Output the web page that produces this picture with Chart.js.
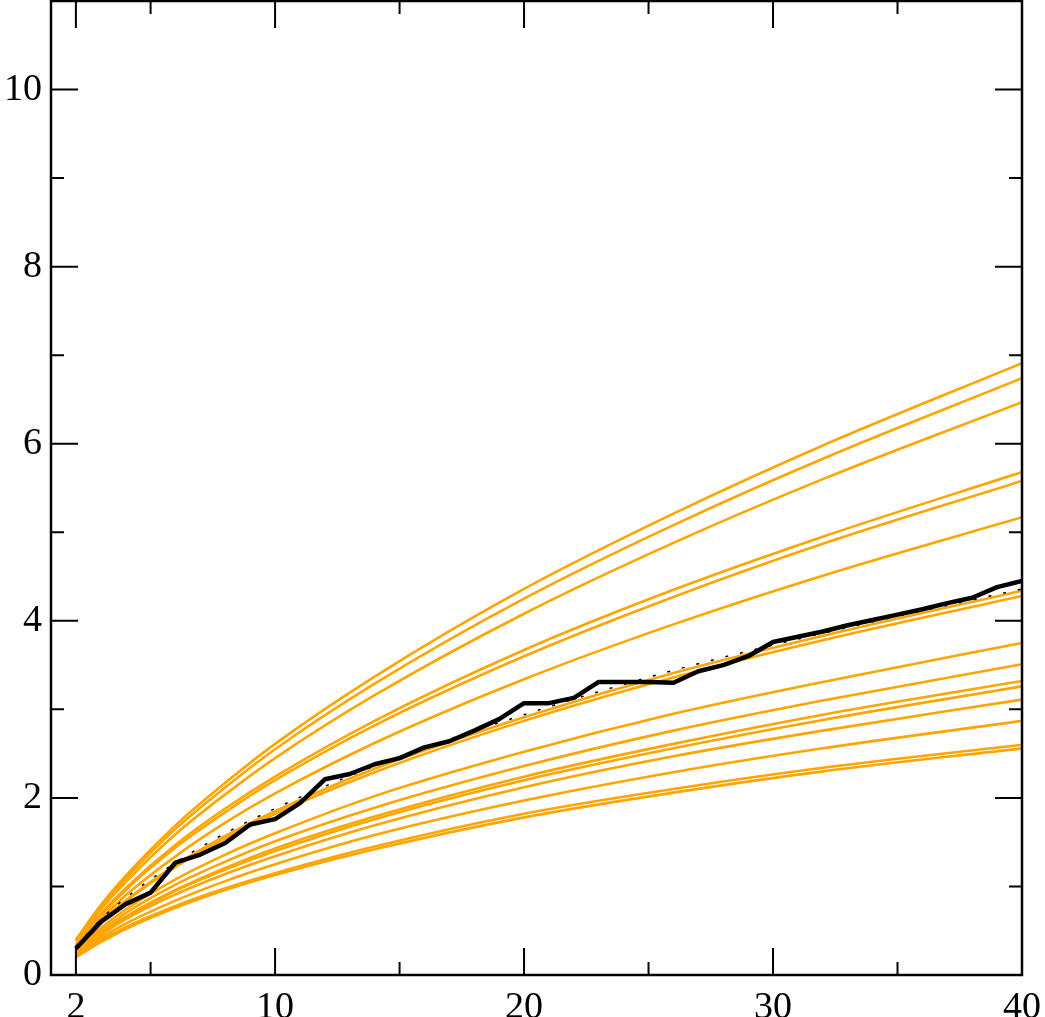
<!DOCTYPE html>
<html>
<head>
<meta charset="utf-8">
<script src="https://cdn.jsdelivr.net/npm/chart.js@4/dist/chart.umd.min.js"></script>
<style>
  html, body { margin: 0; padding: 0; background: #fff; }
  #wrap { width: 1045px; height: 1017px; }
  #warm { position: absolute; left: -9999px; font-family: 'Liberation Serif'; font-size: 38px; }
</style>
</head>
<body>
<div id="warm">0123456789</div>
<div id="wrap"><canvas id="chart"></canvas></div>
<script>
const curveX = [2, 3, 4, 6, 8, 10, 14, 20, 26, 32, 40];

const orange1  = [0.40, 0.79, 1.12, 1.69, 2.17, 2.61, 3.37, 4.36, 5.21, 5.98, 6.91];
const orange2  = [0.39, 0.77, 1.09, 1.65, 2.12, 2.55, 3.29, 4.25, 5.08, 5.83, 6.74];
const orange3  = [0.38, 0.74, 1.05, 1.59, 2.04, 2.45, 3.16, 4.08, 4.88, 5.60, 6.47];
const orange4  = [0.34, 0.69, 0.98, 1.47, 1.88, 2.24, 2.87, 3.67, 4.35, 4.95, 5.68];
const orange5  = [0.33, 0.67, 0.96, 1.44, 1.84, 2.20, 2.82, 3.60, 4.27, 4.87, 5.58];
const orange6  = [0.32, 0.63, 0.90, 1.34, 1.72, 2.05, 2.62, 3.34, 3.96, 4.51, 5.17];
const orange7  = [0.30, 0.60, 0.84, 1.24, 1.57, 1.85, 2.33, 2.91, 3.41, 3.83, 4.34];
const orange8  = [0.29, 0.58, 0.83, 1.22, 1.54, 1.82, 2.29, 2.87, 3.36, 3.78, 4.28];
const orange9  = [0.27, 0.53, 0.74, 1.08, 1.36, 1.60, 2.02, 2.52, 2.95, 3.31, 3.75];
const orange10 = [0.26, 0.50, 0.70, 1.02, 1.28, 1.51, 1.89, 2.36, 2.76, 3.10, 3.51];
const orange11 = [0.25, 0.48, 0.66, 0.96, 1.21, 1.43, 1.79, 2.24, 2.61, 2.94, 3.32];
const orange12 = [0.25, 0.47, 0.65, 0.95, 1.19, 1.40, 1.76, 2.20, 2.56, 2.88, 3.26];
const orange13 = [0.24, 0.45, 0.63, 0.91, 1.14, 1.34, 1.69, 2.12, 2.47, 2.76, 3.11];
const orange14 = [0.23, 0.42, 0.58, 0.84, 1.06, 1.25, 1.58, 1.97, 2.29, 2.56, 2.87];
const orange15 = [0.21, 0.39, 0.54, 0.78, 0.98, 1.15, 1.45, 1.82, 2.10, 2.34, 2.60];
const orange16 = [0.20, 0.37, 0.52, 0.76, 0.96, 1.13, 1.42, 1.78, 2.06, 2.30, 2.56];

// dotted reference curve
const meanFit = [0.32, 0.63, 0.87, 1.27, 1.60, 1.88, 2.36, 2.94, 3.44, 3.86, 4.36];

// thick black observed line
const stepX = [2, 3, 4, 5, 6, 7, 8, 9, 10, 11, 12, 13, 14, 15, 16, 17, 18, 19, 20,
  21, 22, 23, 24, 25, 26, 27, 28, 29, 30, 31, 32, 33, 34, 35, 36, 37, 38, 39, 40];
const observed = [0.30, 0.60, 0.80, 0.93, 1.27, 1.36, 1.49, 1.70, 1.76, 1.94,
  2.21, 2.27, 2.38, 2.45, 2.57, 2.64, 2.76, 2.89, 3.07, 3.07,
  3.13, 3.31, 3.31, 3.31, 3.30, 3.43, 3.50, 3.60, 3.76, 3.82,
  3.88, 3.95, 4.01, 4.07, 4.13, 4.20, 4.26, 4.38, 4.45];

// tick labels
const xMajor = [2, 10, 20, 30, 40];
const xMinor = [5, 15, 25, 35];
const yMajor = [0, 2, 4, 6, 8, 10];
const yMinor = [1, 3, 5, 7, 9];

const orangeSets = [orange1, orange2, orange3, orange4, orange5, orange6, orange7, orange8,
  orange9, orange10, orange11, orange12, orange13, orange14, orange15, orange16];

function pts(xs, ys) {
  return xs.map((x, i) => ({ x: x, y: ys[i] }));
}

const datasets = [
  {
    data: pts(stepX, observed),
    borderColor: '#000',
    borderWidth: 4.5,
    tension: 0,
    borderJoinStyle: 'round'
  },
  {
    data: pts(curveX, meanFit),
    borderColor: '#000',
    borderWidth: 1.5,
    borderDash: [3, 12],
    cubicInterpolationMode: 'monotone'
  }
];
orangeSets.forEach(ys => {
  datasets.push({
    data: pts(curveX, ys),
    borderColor: '#FFA500',
    borderWidth: 2.6,
    cubicInterpolationMode: 'monotone'
  });
});

// frame with inward ticks on all four sides
const framePlugin = {
  id: 'frame',
  afterDatasetsDraw(chart) {
    const ctx = chart.ctx;
    const a = chart.chartArea;
    const xs = chart.scales.x;
    const ys = chart.scales.y;
    ctx.save();
    ctx.strokeStyle = '#000';
    ctx.lineWidth = 2;
    ctx.beginPath();
    function xTick(v, len) {
      const p = xs.getPixelForValue(v);
      ctx.moveTo(p, a.bottom); ctx.lineTo(p, a.bottom - len);
      ctx.moveTo(p, a.top); ctx.lineTo(p, a.top + len);
    }
    function yTick(v, len) {
      const p = ys.getPixelForValue(v);
      ctx.moveTo(a.left, p); ctx.lineTo(a.left + len, p);
      ctx.moveTo(a.right, p); ctx.lineTo(a.right - len, p);
    }
    xMajor.forEach(v => xTick(v, 27));
    xMinor.forEach(v => xTick(v, 13));
    yMajor.forEach(v => yTick(v, 27));
    yMinor.forEach(v => yTick(v, 13));
    ctx.stroke();
    ctx.lineWidth = 2.5;
    ctx.strokeRect(a.left, a.top, a.right - a.left, a.bottom - a.top);
    ctx.restore();
  }
};

const tickFont = { family: "'Liberation Serif', 'Times New Roman', serif", size: 38 };

function draw() {
  new Chart(document.getElementById('chart'), {
    type: 'line',
    data: { datasets: datasets },
    options: {
      responsive: true,
      maintainAspectRatio: false,
      animation: false,
      layout: { padding: { top: 1, right: 23, left: 0, bottom: 0 } },
      elements: { point: { radius: 0 } },
      plugins: { legend: { display: false }, tooltip: { enabled: false } },
      scales: {
        x: {
          type: 'linear',
          min: 1,
          max: 40,
          grid: { display: false },
          border: { display: false },
          ticks: { font: tickFont, color: '#000', padding: 2, maxRotation: 0 },
          afterBuildTicks: s => { s.ticks = xMajor.map(v => ({ value: v })); },
          afterFit: s => { s.height = 42; s.paddingLeft = 0; s.paddingRight = 0; }
        },
        y: {
          type: 'linear',
          min: 0,
          max: 11,
          grid: { display: false },
          border: { display: false },
          ticks: { font: tickFont, color: '#000', padding: 1 },
          afterBuildTicks: s => { s.ticks = yMajor.map(v => ({ value: v })); },
          afterFit: s => { s.width = 51; s.paddingTop = 0; s.paddingBottom = 0; }
        }
      }
    },
    plugins: [framePlugin]
  });
}

if (document.fonts && document.fonts.load) {
  document.fonts.load("38px 'Liberation Serif'").then(draw, draw);
} else {
  draw();
}
</script>
</body>
</html>
